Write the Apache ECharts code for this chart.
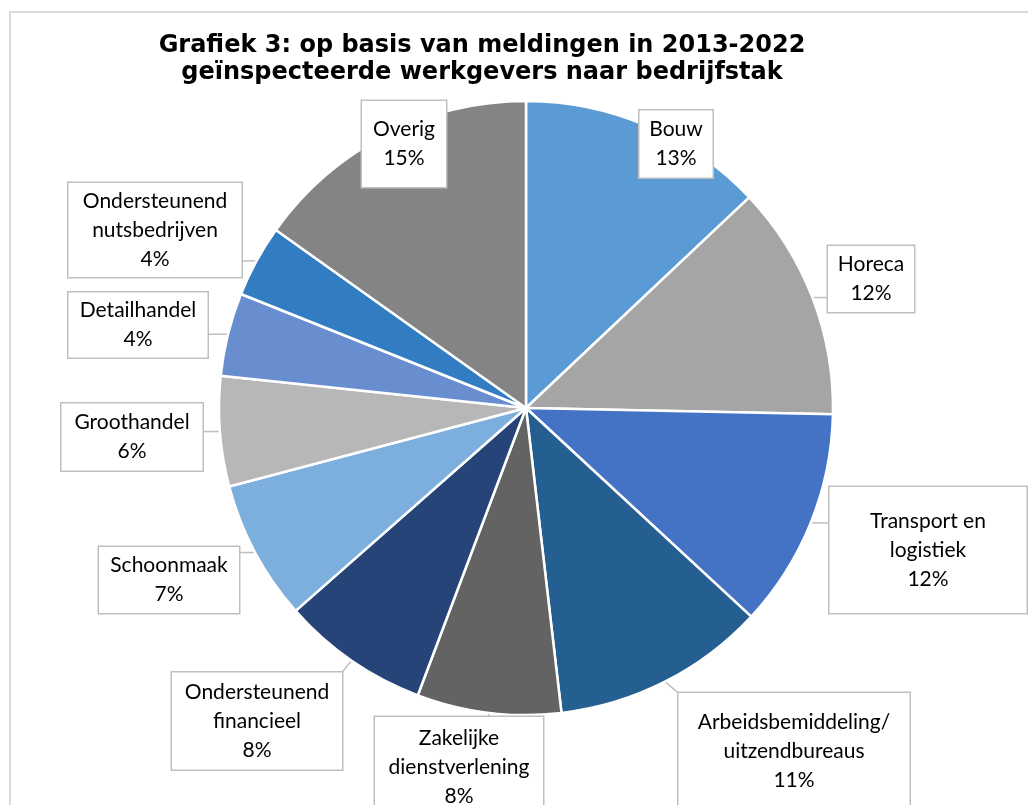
<!DOCTYPE html>
<html>
<head>
<meta charset="utf-8">
<script src="https://cdn.jsdelivr.net/npm/echarts@6/dist/echarts.min.js"></script>
<style>
  html, body { margin: 0; padding: 0; background: #fff; }
  #chart { width: 1028px; height: 805px; }
</style>
</head>
<body>
<div id="chart"></div>
<script>
// categories, clockwise from 12 o'clock
const sectors = [
  'Bouw', 'Horeca', 'Transport en\nlogistiek', 'Arbeidsbemiddeling/\nuitzendbureaus',
  'Zakelijke\ndienstverlening', 'Ondersteunend\nfinancieel', 'Schoonmaak',
  'Groothandel', 'Detailhandel', 'Ondersteunend\nnutsbedrijven', 'Overig'
];
// share per sector (%)
const shares = [13.0, 12.4, 11.6, 11.3, 7.6, 7.8, 7.4, 5.8, 4.4, 3.8, 15.2];
const colors = [
  '#5B9BD5', '#A5A5A5', '#4472C4', '#255E91', '#636363', '#264478',
  '#7CAFDD', '#B7B7B7', '#698ED0', '#327DC2', '#848484'
];

// label boxes: [centerX, centerY, width, height]
const labelBoxes = [
  [676, 144, 73, 67], [871, 279, 86, 66], [928, 550, 197, 126],
  [794, 751, 231, 116], [459, 767, 168, 100], [257, 721, 170, 97],
  [169, 580, 140, 66], [132, 437, 141, 67], [138, 325, 139, 65],
  [155, 230, 173, 94], [404, 144, 84, 86]
];
const noLeader = [0, 10];
const lineH = 29;

let chart = echarts.init(document.getElementById('chart'));

let data = sectors.map((name, i) => {
  let lines = name.split('\n').length + 1;
  let box = labelBoxes[i];
  let padV = Math.max(0, (box[3] - lines * lineH) / 2);
  return {
    name: name,
    value: shares[i],
    itemStyle: { color: colors[i] },
    label: { width: box[2], padding: [padV, 0, padV, 0] },
    labelLine: { show: noLeader.indexOf(i) < 0 }
  };
});

let option = {
  animation: false,
  title: {
    text: 'Grafiek 3: op basis van meldingen in 2013-2022\ngeïnspecteerde werkgevers naar bedrijfstak',
    left: 482,
    top: 32,
    padding: 0,
    textAlign: 'center',
    textStyle: {
      fontFamily: 'DejaVu Sans',
      fontWeight: 'bold',
      fontSize: 24,
      lineHeight: 27,
      color: '#000'
    }
  },
  graphic: [{
    type: 'rect',
    shape: { x: 10, y: 12, width: 1040, height: 820 },
    style: { fill: 'none', stroke: '#D9D9D9', lineWidth: 2 },
    z: -1
  }],
  series: [{
    type: 'pie',
    center: [526, 408],
    radius: 307,
    startAngle: 90,
    clockwise: true,
    avoidLabelOverlap: false,
    data: data,
    itemStyle: { borderColor: '#fff', borderWidth: 2.5 },
    emphasis: { disabled: true },
    label: {
      show: true,
      position: 'outside',
      formatter: p => p.name + '\n' + Math.round(p.percent) + '%',
      fontFamily: 'Lato',
      fontSize: 21,
      lineHeight: lineH,
      color: '#000',
      align: 'center',
      backgroundColor: '#fff',
      borderColor: '#BFBFBF',
      borderWidth: 1.5
    },
    labelLine: {
      show: true,
      lineStyle: { color: '#BFBFBF', width: 1.5 }
    },
    labelLayout: function (params) {
      let b = labelBoxes[params.dataIndex];
      let res = { x: b[0], y: b[1], align: 'center', verticalAlign: 'middle' };
      let pts = params.labelLinePoints;
      if (pts && noLeader.indexOf(params.dataIndex) < 0) {
        let p0 = pts[0];
        let l = b[0] - b[2] / 2, r = b[0] + b[2] / 2;
        let t = b[1] - b[3] / 2, btm = b[1] + b[3] / 2;
        let ex = Math.min(Math.max(p0[0], l), r);
        let ey = Math.min(Math.max(p0[1], t), btm);
        res.labelLinePoints = [p0, [(p0[0] + ex) / 2, (p0[1] + ey) / 2], [ex, ey]];
      }
      return res;
    }
  }]
};

option && chart.setOption(option);
</script>
</body>
</html>
